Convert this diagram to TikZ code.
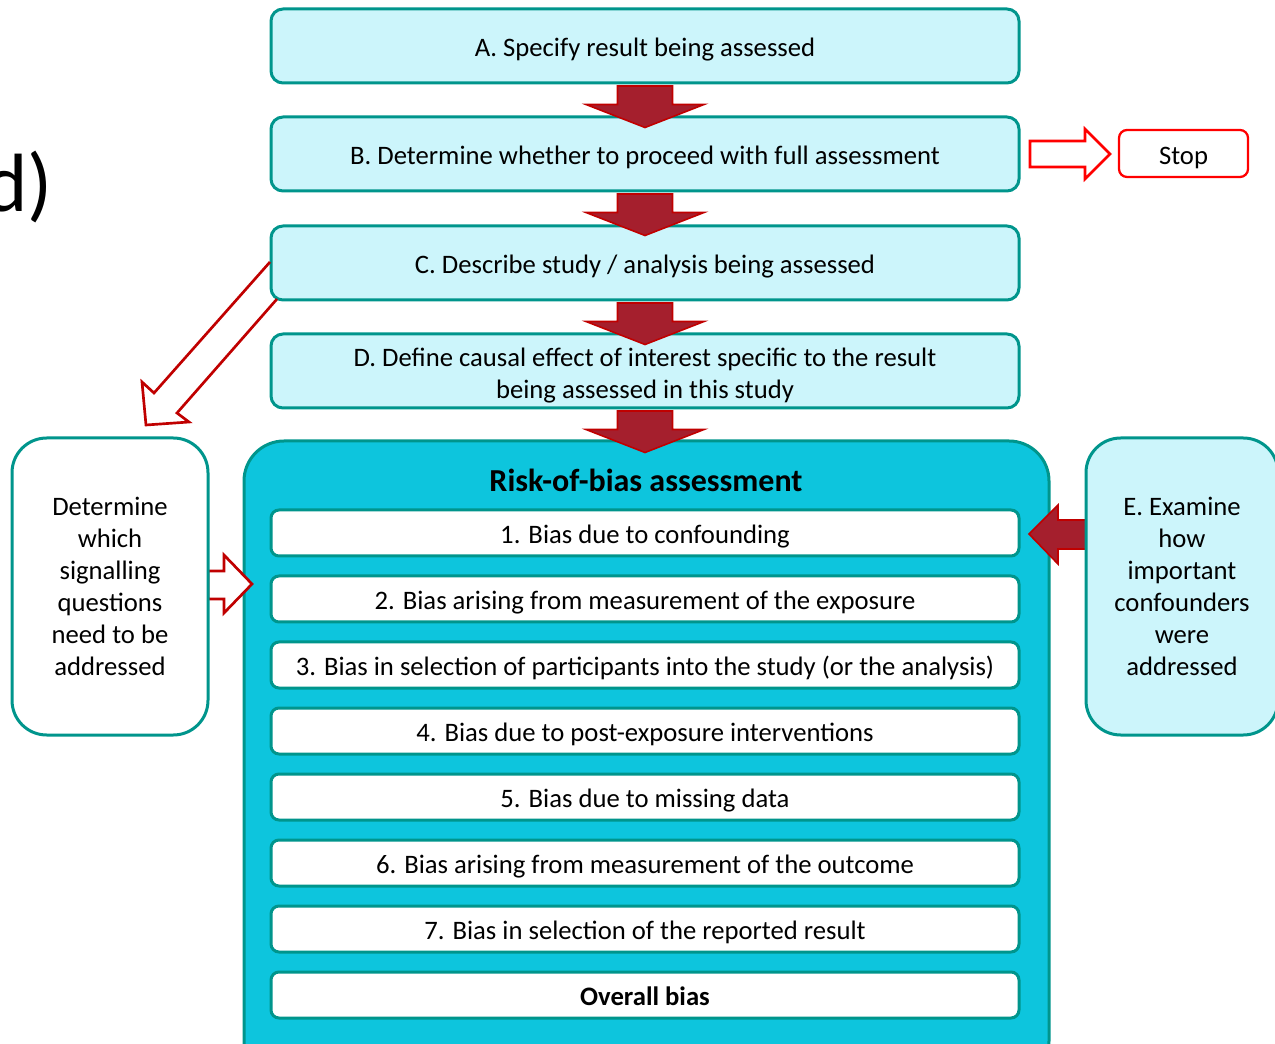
\documentclass[tikz,border=0pt]{standalone}
\usepackage{fontspec}
\setmainfont{Carlito}
\definecolor{paleaqua}{HTML}{CCF5FB}
\definecolor{deepaqua}{HTML}{0DC5DD}
\definecolor{tealedge}{HTML}{00958C}
\definecolor{wine}{HTML}{A51F2D}
\definecolor{redline}{HTML}{C00000}
\definecolor{stopred}{HTML}{FF0000}
\begin{document}
\begin{tikzpicture}[x=0.75pt,y=-0.75pt,
  txt/.style={font=\fontsize{20}{24}\selectfont, align=center, text=black},
  % a fixed strut so every box label sits on the same baseline
  lowtext/.style={execute at begin node={\rule[-5pt]{0pt}{26pt}}},
  stagebox/.style={txt, lowtext, draw=tealedge, fill=paleaqua, line width=2.25pt,
    rounded corners=9pt, minimum width=561pt, minimum height=55.5pt, inner sep=0pt},
  biasbox/.style={txt, lowtext, draw=tealedge, fill=white, line width=2.25pt,
    rounded corners=6pt, minimum width=561pt, minimum height=34.5pt, inner sep=0pt},
  sidebox/.style={txt, draw=tealedge, line width=2.25pt, rounded corners=26pt,
    minimum height=222.75pt, inner sep=0pt},
  solidarrow/.style={fill=wine, draw=redline, line width=1.2pt, line join=miter},
  hollowarrow/.style={draw=redline, line width=2pt, line join=miter},
  downarr/.pic={\draw[solidarrow] (-27.5,1.5) -- (27.5,1.5) -- (27.5,20) -- (59,20)
    -- (0,43) -- (-59,20) -- (-27.5,20) -- cycle;}
]
\useasboundingbox (0,0) rectangle (1275,1044);
\clip (0,0) rectangle (1275,1044);

% panel label
\node[anchor=base east, inner sep=0pt, font=\fontsize{62}{62}\selectfont] (lbl) at (53,212) {d)};

% preliminary stages
\node[stagebox] (A) at (645,46) {A. Specify result being assessed};
\node[stagebox] (B) at (645,154) {B. Determine whether to proceed with full assessment};
\node[stagebox] (C) at (645,263) {C. Describe study / analysis being assessed};
\node[stagebox] (D) at (645,371) {};
\node[txt, inner sep=0pt] (Dlabel) at (645,376)
  {D. Define causal effect of interest specific to the result\\being assessed in this study};

% stop branch
\node[txt, lowtext, draw=stopred, fill=white, line width=1.7pt, rounded corners=6pt,
  minimum width=96.75pt, minimum height=35.25pt, inner sep=0pt] (stop) at (1183.5,153.5) {Stop};
\draw[draw=stopred, line width=2pt, line join=miter, fill=white]
  (1030,141) -- (1085,141) -- (1085,129) -- (1110,154) -- (1085,179) -- (1085,167) -- (1030,167) -- cycle;

% domain panel
\node[draw=tealedge, fill=deepaqua, line width=2.25pt, rounded corners=30pt,
  minimum width=603.75pt, minimum height=480pt, inner sep=0pt] (rob) at (646.5,761) {};
\node[txt, font=\fontsize{24}{28}\selectfont\bfseries] (robtitle) at (646,480) {Risk-of-bias assessment};
\node[biasbox] (b1) at (645,533) {1. Bias due to confounding};
\node[biasbox] (b2) at (645,599) {2. Bias arising from measurement of the exposure};
\node[biasbox] (b3) at (645,665) {3. Bias in selection of participants into the study (or the analysis)};
\node[biasbox] (b4) at (645,731) {4. Bias due to post-exposure interventions};
\node[biasbox] (b5) at (645,797) {5. Bias due to missing data};
\node[biasbox] (b6) at (645,863) {6. Bias arising from measurement of the outcome};
\node[biasbox] (b7) at (645,929) {7. Bias in selection of the reported result};
\node[biasbox, font=\fontsize{20}{24}\selectfont\bfseries] (overall) at (645,995) {Overall bias};

% flow arrows between stages
\pic at (A.south) {downarr};
\pic at (B.south) {downarr};
\pic at (C.south) {downarr};
\pic at (D.south) {downarr};

% diagonal hollow arrow from C to the signalling box
\draw[hollowarrow] (270,262) -- (154,393) -- (142,382) -- (146,425) -- (189,422) -- (177,413) -- (277,299);

% hollow arrow into the domain panel
\draw[hollowarrow, fill=white] (208,571) -- (224,571) -- (224,555) -- (252,584)
  -- (224,613) -- (224,599) -- (208,599) -- cycle;

% solid arrow from E into domain 1
\draw[solidarrow] (1090,520) -- (1058,520) -- (1058,505) -- (1029,534) -- (1058,564)
  -- (1058,549) -- (1090,549) -- cycle;

% side boxes
\node[sidebox, fill=white, minimum width=147pt] (sig) at (110,586.5)
  {Determine\\which\\signalling\\questions\\need to be\\addressed};
\node[sidebox, fill=paleaqua, minimum width=144pt] (E) at (1182,586.5)
  {E. Examine\\how\\important\\confounders\\were\\addressed};
\end{tikzpicture}
\end{document}
